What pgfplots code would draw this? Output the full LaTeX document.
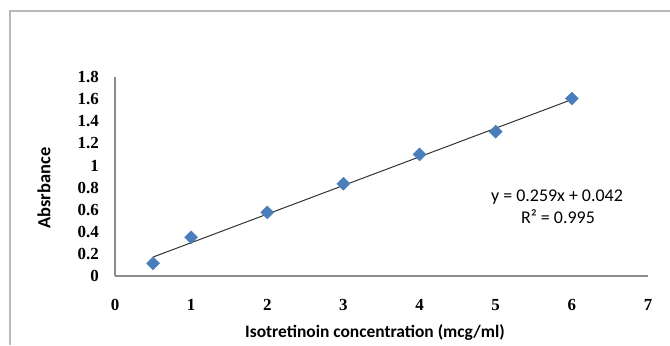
\documentclass[border=0pt]{standalone}
\usepackage{pgfplots}
\pgfplotsset{compat=1.18}
\usepackage{fontspec}
\setmainfont{Liberation Serif}
\newfontfamily\calibri{Carlito}
\definecolor{mblue}{HTML}{4A7EBB}
\definecolor{axgray}{HTML}{8C8C8C}
\begin{document}
\begin{tikzpicture}[x=1bp,y=1bp]
\useasboundingbox (0,0) rectangle (670,345);
\draw[gray!55, line width=1.3bp] (670,334) -- (10,334) -- (10,0);
\begin{axis}[
  at={(115bp,69bp)}, anchor=south west,
  scale only axis, width=533bp, height=199bp,
  xmin=0, xmax=7, ymin=0, ymax=1.8,
  xtick={0,1,2,3,4,5,6,7},
  ytick={0,0.2,0.4,0.6,0.8,1,1.2,1.4,1.6,1.8},
  axis x line=bottom, axis y line=left,
  axis line style={axgray, line width=1.3bp, -},
  major tick length=0pt,
  /pgf/number format/assume math mode=true,
  tick label style={font=\fontsize{17}{17}\selectfont\bfseries, inner sep=0pt},
  xticklabel style={anchor=center, yshift=-29bp},
  yticklabel style={anchor=east, xshift=-16bp},
  clip=false,
]
\addplot[black!80, line width=1bp] coordinates {(0.5,0.1715) (6,1.596)};
\addplot[only marks, mark=square*, mark size=4.6bp, mark options={rotate=45, fill=mblue, draw=mblue}] coordinates {
(0.5,0.115) (1,0.35) (2,0.575) (3,0.835) (4,1.10) (5,1.305) (6,1.605)};
\end{axis}
\node[rotate=90, font=\calibri\bfseries\fontsize{18.5}{18.5}\selectfont] at (44,157) {Absrbance};
\node[font=\calibri\bfseries\fontsize{17.5}{17.5}\selectfont] at (375,12) {Isotretinoin concentration (mcg/ml)};
\node[font=\calibri\fontsize{18}{18}\selectfont] at (557,148) {y = 0.259x + 0.042};
\node[font=\calibri\fontsize{18}{18}\selectfont] at (558,128) {R² = 0.995};
\end{tikzpicture}
\end{document}
